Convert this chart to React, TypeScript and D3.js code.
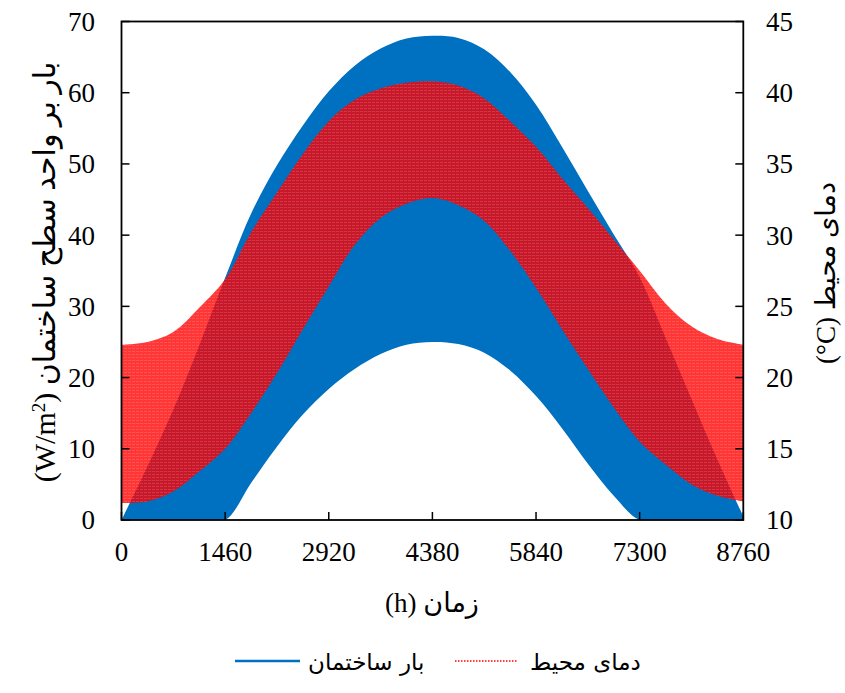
import React from 'react';
import * as d3 from 'd3';

// Hours of year at which the daily envelopes are read
const hours = [0, 365, 730, 1095, 1460, 1825, 2190, 2555, 2920, 3285, 3650, 4015, 4380,
  4745, 5110, 5475, 5840, 6205, 6570, 6935, 7300, 7665, 8030, 8395, 8760];

// Building load (W/m2): daily max / min envelopes
const loadUpper = [0, 7.5, 15.5, 24.5, 34, 43, 49.8, 55.4, 60.2, 63.8, 66.2, 67.6, 68,
  67.7, 66.1, 62.9, 58.3, 52.4, 46.2, 40.1, 34.1, 25.6, 17, 8.5, 0.5];
const loadLower = [0, 0, 0, 0, 0, 5.2, 10.3, 14.8, 18.4, 21.2, 23.3, 24.6, 25,
  24.7, 23.5, 21, 17.4, 12.9, 7.9, 3.4, 0, 0, 0, 0, 0];

// Ambient temperature (°C): daily max / min envelopes
const tempUpper = [22.3, 22.5, 23.2, 24.9, 26.9, 30.2, 33.0, 35.7, 38.0, 39.5, 40.3, 40.7, 40.8,
  40.5, 39.6, 38.0, 36.2, 34.0, 31.9, 29.7, 27.5, 25.2, 23.6, 22.7, 22.3];
const tempLower = [11.2, 11.3, 12.0, 13.4, 15.0, 17.5, 20.3, 23.4, 26.4, 29.3, 31.2, 32.2, 32.6,
  32.1, 31.0, 28.9, 26.3, 23.4, 20.6, 17.9, 15.5, 13.9, 12.5, 11.7, 11.3];

const xTicks = [0, 1460, 2920, 4380, 5840, 7300, 8760];
const yLeftTicks = [0, 10, 20, 30, 40, 50, 60, 70];
const yRightTicks = [10, 15, 20, 25, 30, 35, 40, 45];

const xTitle = '(h) زمان';
const yLeftTitleAr = 'بار بر واحد سطح ساختمان';
const yRightTitle = '(°C) دمای محیط';
const legendLoad = 'بار ساختمان';
const legendTemp = 'دمای محیط';

const BLUE = '#0070C0';
const RED = '#FF0000';
const SERIF = '"Liberation Serif", "Times New Roman", "DejaVu Sans", serif';
const SANS = '"DejaVu Sans", "Noto Sans", sans-serif';

export default function App() {
  const left = 121.5, right = 743.3, top = 21.5, bottom = 520;
  const x = d3.scaleLinear().domain([0, 8760]).range([left, right]);
  const yL = d3.scaleLinear().domain([0, 70]).range([bottom, top]);
  const yR = d3.scaleLinear().domain([10, 45]).range([bottom, top]);

  const idx = hours.map((_, i) => i);
  const loadArea = d3.area<number>()
    .x(i => x(hours[i]))
    .y0(i => yL(loadLower[i]))
    .y1(i => yL(loadUpper[i]))
    .curve(d3.curveCatmullRom.alpha(0.5));
  const tempArea = d3.area<number>()
    .x(i => x(hours[i]))
    .y0(i => yR(tempLower[i]))
    .y1(i => yR(tempUpper[i]))
    .curve(d3.curveCatmullRom.alpha(0.5));

  const fs = 27;
  const tempPath = tempArea(idx) || '';

  return (
    <svg width={845} height={693} viewBox="0 0 845 693"
      style={{ position: 'absolute', left: 0, top: 0, background: '#fff' }}>
      <defs>
        <clipPath id="plot">
          <rect x={left} y={top} width={right - left} height={bottom - top} />
        </clipPath>
        <pattern id="redstripes" patternUnits="userSpaceOnUse" width={4} height={3}>
          <rect x={0} y={0} width={3} height={1} fill="#ffffff" />
        </pattern>
      </defs>
      <rect x={0} y={0} width={845} height={693} fill="#fff" />
      <g clipPath="url(#plot)">
        <path d={loadArea(idx) || ''} fill={BLUE} />
        <path d={tempPath} fill={RED} fillOpacity={0.79} />
        <path d={tempPath} fill="url(#redstripes)" opacity={0.14} />
      </g>

      {/* frame */}
      <rect x={left} y={top} width={right - left} height={bottom - top} fill="none" stroke="#000" strokeWidth={1.8} />

      {/* left ticks */}
      {yLeftTicks.map(t => (
        <g key={'l' + t}>
          <line x1={left} x2={left + 8} y1={yL(t)} y2={yL(t)} stroke="#000" strokeWidth={1.5} />
          <text x={95} y={yL(t)} dy="0.35em" textAnchor="end" fontFamily={SERIF} fontSize={fs} fill="#000">{t}</text>
        </g>
      ))}
      {/* right ticks */}
      {yRightTicks.map(t => (
        <g key={'r' + t}>
          <line x1={right} x2={right - 8} y1={yR(t)} y2={yR(t)} stroke="#000" strokeWidth={1.5} />
          <text x={766} y={yR(t)} dy="0.35em" textAnchor="start" fontFamily={SERIF} fontSize={fs} fill="#000">{t}</text>
        </g>
      ))}
      {/* x ticks */}
      {xTicks.map(t => (
        <g key={'x' + t}>
          <line x1={x(t)} x2={x(t)} y1={bottom} y2={bottom - 8} stroke="#000" strokeWidth={1.5} />
          <text x={x(t)} y={561} textAnchor="middle" fontFamily={SERIF} fontSize={fs} fill="#000">{t}</text>
        </g>
      ))}

      {/* axis titles */}
      <text x={432} y={612} textAnchor="middle" fontFamily={SERIF} fontSize={fs} fill="#000">{xTitle}</text>
      <text transform="translate(55,272) rotate(-90)" textAnchor="middle" fontFamily={SERIF} fontSize={30} fill="#000">
        (W/m<tspan baselineShift="super" fontSize={19}>2</tspan>)  {yLeftTitleAr}
      </text>
      <text transform="translate(835,273) rotate(-90)" textAnchor="middle" fontFamily={SERIF} fontSize={fs} fill="#000">
        {yRightTitle}
      </text>

      {/* legend */}
      <line x1={235} x2={300} y1={661} y2={661} stroke={BLUE} strokeWidth={2.5} />
      <text x={308} y={670} textAnchor="start" fontFamily={SANS} fontSize={23} fill="#000">{legendLoad}</text>
      <line x1={455} x2={517} y1={661} y2={661} stroke={RED} strokeWidth={1.5} strokeDasharray="1.5,1.5" />
      <text x={530} y={670} textAnchor="start" fontFamily={SANS} fontSize={23} fill="#000">{legendTemp}</text>
    </svg>
  );
}
